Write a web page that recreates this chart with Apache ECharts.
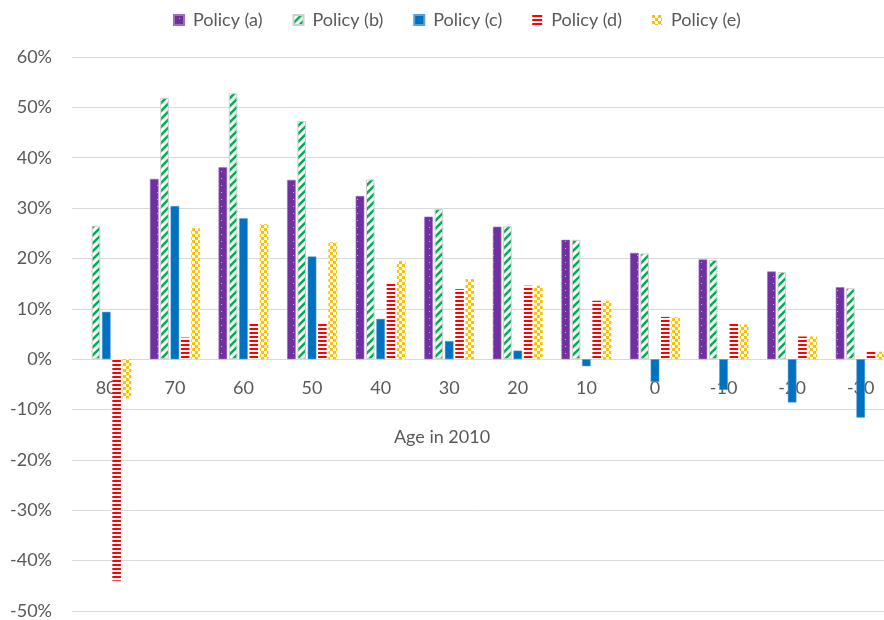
<!DOCTYPE html>
<html><head><meta charset="utf-8">
<script src="https://cdn.jsdelivr.net/npm/echarts@6/dist/echarts.min.js"></script>
<style>html,body{margin:0;padding:0;background:#fff}#c{width:884px;height:620px}</style>
</head><body><div id="c"></div>
<script>
const categories = ['80','70','60','50','40','30','20','10','0','-10','-20','-30'];
const seriesNames = ['Policy (a)','Policy (b)','Policy (c)','Policy (d)','Policy (e)'];
const policyA = [null,35.8,38.1,35.6,32.4,28.3,26.3,23.7,21.1,19.8,17.4,14.3];
const policyB = [26.5,51.9,52.8,47.3,35.7,29.8,26.4,23.7,21.0,19.7,17.3,14.1];
const policyC = [9.4,30.4,28.0,20.4,8.0,3.6,1.7,-1.4,-4.5,-6.1,-8.6,-11.6];
const policyD = [-44.0,4.3,7.0,7.0,15.0,13.9,14.6,11.6,8.4,7.0,4.5,1.5];
const policyE = [-7.8,26.0,26.8,23.2,19.5,15.9,14.6,11.6,8.3,6.9,4.5,1.5];
const yMin = -50, yMax = 60, yStep = 10;
const axisTitle = 'Age in 2010';

function mk(w,h,draw){const c=document.createElement('canvas');c.width=w;c.height=h;const x=c.getContext('2d');draw(x);return {image:c,repeat:'repeat'};}
const patA = mk(8,7,x=>{x.fillStyle='#7030A0';x.fillRect(0,0,8,7);x.fillStyle='rgba(255,255,255,0.6)';x.fillRect(5,3,1,1);});
const patB = mk(8,8,x=>{x.fillStyle='#ffffff';x.fillRect(0,0,8,8);x.strokeStyle='#00B050';x.lineWidth=2.6;
  [[-4,4,4,-4],[0,8,8,0],[4,12,12,4]].forEach(l=>{x.beginPath();x.moveTo(l[0],l[1]);x.lineTo(l[2],l[3]);x.stroke();});});
const patC = '#0070C0';
const patD = mk(4,4,x=>{x.fillStyle='#ffffff';x.fillRect(0,0,4,4);x.fillStyle='#FF0000';x.fillRect(0,0,4,2);});
const patE = mk(6,6,x=>{x.fillStyle='#ffffff';x.fillRect(0,0,6,6);x.fillStyle='#FFC000';x.fillRect(0,0,3,3);x.fillRect(3,3,3,3);});

const values = [policyA,policyB,policyC,policyD,policyE];
const fills = [patA,patB,patC,patD,patE];
const borders = [['#9a70c0',0.6],['#cfcfcf',1],['#5a9fd6',0.5],['#ffb0b0',0],['#ffe08a',0]];

const font = 'Lato, "Open Sans", sans-serif';
const chart = echarts.init(document.getElementById('c'), null, {renderer:'canvas'});
chart.setOption({
  animation:false,
  textStyle:{fontFamily:font},
  legend:{
    left:168, top:6, itemWidth:10, itemHeight:10, itemGap:30,
    icon:'rect',
    textStyle:{color:'#595959', fontSize:18, fontFamily:font, padding:[0,0,0,4]},
    data:seriesNames
  },
  grid:{left:72, top:57, width:823, height:554, containLabel:false, outerBoundsMode:'none'},
  xAxis:{
    type:'category', data:categories, position:'bottom', offset:-252,
    axisLine:{onZero:false, lineStyle:{color:'#d9d9d9', width:1}},
    axisTick:{show:false},
    axisLabel:{color:'#595959', fontSize:18, fontFamily:font, margin:20},
    splitLine:{show:false}
  },
  yAxis:{
    type:'value', min:yMin, max:yMax, interval:yStep,
    axisLine:{show:false}, axisTick:{show:false},
    axisLabel:{color:'#595959', fontSize:18, fontFamily:font, margin:20, formatter:'{value}%'},
    splitLine:{lineStyle:{color:'#d9d9d9', width:1}}
  },
  graphic:[{type:'text', style:{text:axisTitle, fill:'#595959', fontSize:18, fontFamily:font, textAlign:'center', textVerticalAlign:'middle', x:442, y:437}}],
  series: seriesNames.map((n,i)=>({
    name:n, type:'bar', data:values[i], barWidth:8.6, barGap:'20%',
    itemStyle:{color:fills[i], borderColor:borders[i][0], borderWidth:borders[i][1]}
  }))
});
</script></body></html>
